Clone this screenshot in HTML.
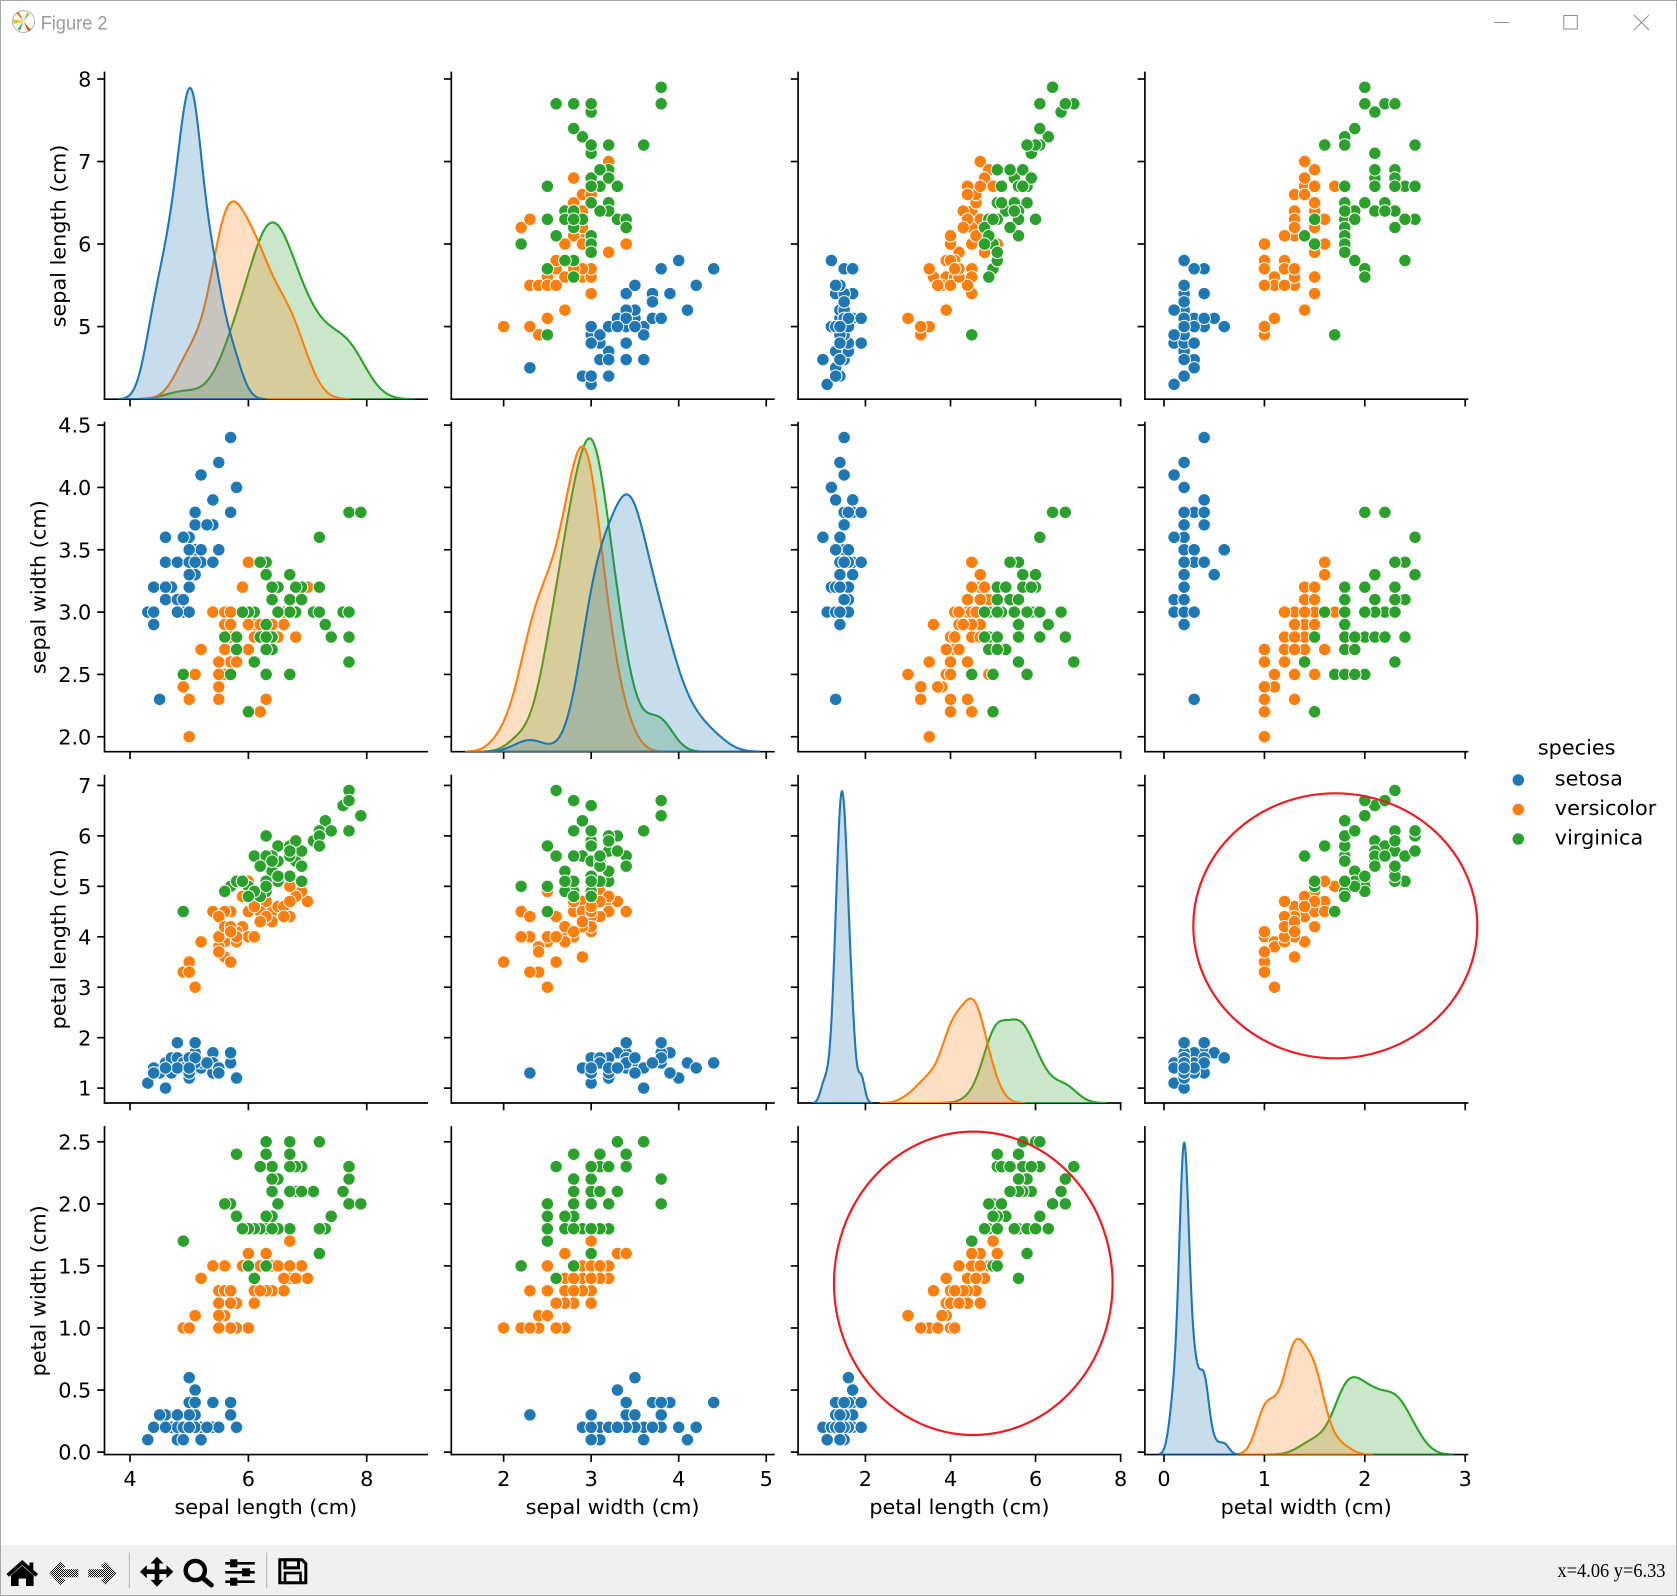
<!DOCTYPE html>
<html><head><meta charset="utf-8"><title>Figure 2</title>
<style>
html,body{margin:0;padding:0;background:#fff;width:1677px;height:1596px;overflow:hidden}
svg{display:block}
.t{font-family:"DejaVu Sans","Liberation Sans",sans-serif;font-size:20.8px;fill:#000}
</style></head><body>
<svg id="s" width="1677" height="1596" viewBox="0 0 1677 1596">
<defs>
<pattern id="dith" width="2" height="2" patternUnits="userSpaceOnUse"><rect width="2" height="2" fill="#f0f0f0"/><rect width="1" height="1" fill="#000"/><rect x="1" y="1" width="1" height="1" fill="#000"/></pattern>
</defs>
<rect width="1677" height="1596" fill="#fff"/>

<!-- title bar -->
<g>
<circle cx="23.5" cy="21.5" r="11" fill="#fff" stroke="#b0b0b0" stroke-width="1"/>
<path d="M23.5 21.5 L16 13 L19 12 Z" fill="#f07a1e"/>
<path d="M23.5 21.5 L31 30 L28 31 Z" fill="#e2441c"/>
<path d="M23.5 21.5 L13 19 L13.5 24 Z" fill="#f2c21a"/>
<path d="M23.5 21.5 L27 12.5 L29.5 14 Z" fill="#8bc34a"/>
<path d="M23.5 21.5 L20 30.5 L17.5 29 Z" fill="#4caf50"/>
<text x="40.6" y="29.3" font-family="Liberation Sans, sans-serif" font-size="19" fill="#9a9a9a" textLength="67" lengthAdjust="spacingAndGlyphs">Figure 2</text>
<line x1="1494.3" y1="22.5" x2="1509" y2="22.5" stroke="#8c8c8c" stroke-width="1"/>
<rect x="1563.8" y="15.5" width="13.5" height="13.5" fill="none" stroke="#8c8c8c" stroke-width="1"/>
<line x1="1634" y1="15" x2="1649" y2="30" stroke="#8c8c8c" stroke-width="1"/>
<line x1="1649" y1="15" x2="1634" y2="30" stroke="#8c8c8c" stroke-width="1"/>
</g>

<g id="plot"></g>

<!-- y tick labels -->
<g class="t" text-anchor="end">
<text x="91.3" y="86.6">8</text><text x="91.3" y="169.1">7</text><text x="91.3" y="251.6">6</text><text x="91.3" y="334.1">5</text>
<text x="91.3" y="432.7">4.5</text><text x="91.3" y="495.0">4.0</text><text x="91.3" y="557.4">3.5</text><text x="91.3" y="619.7">3.0</text><text x="91.3" y="682.0">2.5</text><text x="91.3" y="744.3">2.0</text>
<text x="91.3" y="793.0">7</text><text x="91.3" y="843.5">6</text><text x="91.3" y="893.9">5</text><text x="91.3" y="944.4">4</text><text x="91.3" y="994.8">3</text><text x="91.3" y="1045.3">2</text><text x="91.3" y="1095.7">1</text>
<text x="91.3" y="1149.4">2.5</text><text x="91.3" y="1211.5">2.0</text><text x="91.3" y="1273.5">1.5</text><text x="91.3" y="1335.6">1.0</text><text x="91.3" y="1397.7">0.5</text><text x="91.3" y="1459.7">0.0</text>
</g>
<!-- x tick labels -->
<g class="t" text-anchor="middle">
<text x="130.0" y="1486">4</text><text x="248.4" y="1486">6</text><text x="366.7" y="1486">8</text>
<text x="503.7" y="1486">2</text><text x="591.2" y="1486">3</text><text x="678.7" y="1486">4</text><text x="766.2" y="1486">5</text>
<text x="865.4" y="1486">2</text><text x="950.5" y="1486">4</text><text x="1035.6" y="1486">6</text><text x="1120.6" y="1486">8</text>
<text x="1164.0" y="1486">0</text><text x="1264.4" y="1486">1</text><text x="1364.8" y="1486">2</text><text x="1465.2" y="1486">3</text>
</g>
<!-- x axis labels -->
<g class="t" text-anchor="middle">
<text x="265.8" y="1513.8">sepal length (cm)</text>
<text x="612.6" y="1513.8">sepal width (cm)</text>
<text x="959.4" y="1513.8">petal length (cm)</text>
<text x="1306.2" y="1513.8">petal width (cm)</text>
</g>
<!-- y axis labels -->
<g class="t" text-anchor="middle">
<text transform="translate(65.6,236) rotate(-90)">sepal length (cm)</text>
<text transform="translate(45.6,587.2) rotate(-90)">sepal width (cm)</text>
<text transform="translate(65.6,939.3) rotate(-90)">petal length (cm)</text>
<text transform="translate(45.6,1290.8) rotate(-90)">petal width (cm)</text>
</g>

<!-- legend -->
<g>
<text class="t" x="1576.7" y="754.3" text-anchor="middle">species</text>
<circle cx="1518.3" cy="780" r="6.25" fill="#1f77b4" stroke="#fff" stroke-width="1"/>
<circle cx="1518.3" cy="809.5" r="6.25" fill="#ff7f0e" stroke="#fff" stroke-width="1"/>
<circle cx="1518.3" cy="839" r="6.25" fill="#2ca02c" stroke="#fff" stroke-width="1"/>
<text class="t" x="1554.8" y="785.3">setosa</text>
<text class="t" x="1554.8" y="815.0">versicolor</text>
<text class="t" x="1554.8" y="844.7">virginica</text>
</g>

<!-- annotation ellipses -->
<ellipse cx="1335.3" cy="925.8" rx="142" ry="132.5" fill="none" stroke="#ed1c24" stroke-width="2.2"/>
<ellipse cx="973.3" cy="1283.3" rx="139.3" ry="151.7" fill="none" stroke="#ed1c24" stroke-width="2.2"/>

<!-- toolbar -->
<rect x="0" y="1545" width="1677" height="51" fill="#f0f0f0"/>
<g fill="#000">
<path d="M22.3 1560 L6.5 1574 L9 1576.8 L22.3 1565 L35.6 1576.8 L38.1 1574 L33.3 1569.7 V1562.5 H29.5 V1566.3 Z"/>
<path d="M11 1575.5 L22.3 1565.8 L33.6 1575.5 V1586 H26 V1578.5 H18.6 V1586 H11 Z"/>
</g>
<path d="M49.3 1573.3 L60.5 1561.7 L65.5 1566.5 L60.5 1569.3 H78.3 V1577.3 H60.5 L65.5 1580.2 L60.5 1585 Z" fill="url(#dith)"/>
<path d="M116.7 1573.3 L105.5 1561.7 L100.5 1566.5 L105.5 1569.3 H88.3 V1577.3 H105.5 L100.5 1580.2 L105.5 1585 Z" fill="url(#dith)"/>
<line x1="129.3" y1="1552.7" x2="129.3" y2="1588.3" stroke="#b4b4b4" stroke-width="1"/>
<g fill="#000">
<rect x="154.7" y="1561" width="4.6" height="22"/>
<rect x="145" y="1569.4" width="24" height="4.6"/>
<path d="M157 1556.7 L150.5 1563.5 H163.5 Z M157 1586.7 L150.5 1579.9 H163.5 Z M140 1571.7 L146.8 1565.2 V1578.2 Z M173.3 1571.7 L166.5 1565.2 V1578.2 Z"/>
</g>
<circle cx="195.3" cy="1570.5" r="9.6" fill="none" stroke="#000" stroke-width="4.4"/>
<line x1="202.5" y1="1577.7" x2="211.3" y2="1585" stroke="#000" stroke-width="5" stroke-linecap="round"/>
<g stroke="#000" stroke-width="2.6">
<line x1="225.3" y1="1563.3" x2="254.7" y2="1563.3"/>
<line x1="225.3" y1="1572.3" x2="254.7" y2="1572.3"/>
<line x1="225.3" y1="1581.7" x2="254.7" y2="1581.7"/>
</g>
<g fill="#000">
<rect x="230" y="1559.3" width="7.3" height="8"/>
<rect x="242" y="1568.3" width="8" height="8"/>
<rect x="230" y="1577.7" width="7.3" height="8"/>
</g>
<line x1="266.7" y1="1552.7" x2="266.7" y2="1588.3" stroke="#b4b4b4" stroke-width="1"/>
<g fill="none" stroke="#000" stroke-width="3">
<path d="M279.8 1559.8 H302 L305.8 1563.6 V1582.8 H279.8 Z"/>
<rect x="285" y="1559.8" width="13.5" height="8"/>
<rect x="285" y="1573" width="15.5" height="9.8" stroke-width="2.6"/>
</g>
<text x="1665.5" y="1577" text-anchor="end" font-family="Liberation Serif, serif" font-size="20" fill="#000" textLength="108" lengthAdjust="spacingAndGlyphs">x=4.06 y=6.33</text>

<!-- window border -->
<rect x="0.5" y="0.5" width="1676" height="1595" fill="none" stroke="#a8a8a8" stroke-width="1"/>
</svg>
<script>
(function(){
var S="5.1,3.5,1.4,.2 4.9,3,1.4,.2 4.7,3.2,1.3,.2 4.6,3.1,1.5,.2 5,3.6,1.4,.2 5.4,3.9,1.7,.4 4.6,3.4,1.4,.3 5,3.4,1.5,.2 4.4,2.9,1.4,.2 4.9,3.1,1.5,.1 5.4,3.7,1.5,.2 4.8,3.4,1.6,.2 4.8,3,1.4,.1 4.3,3,1.1,.1 5.8,4,1.2,.2 5.7,4.4,1.5,.4 5.4,3.9,1.3,.4 5.1,3.5,1.4,.3 5.7,3.8,1.7,.3 5.1,3.8,1.5,.3 5.4,3.4,1.7,.2 5.1,3.7,1.5,.4 4.6,3.6,1,.2 5.1,3.3,1.7,.5 4.8,3.4,1.9,.2 5,3,1.6,.2 5,3.4,1.6,.4 5.2,3.5,1.5,.2 5.2,3.4,1.4,.2 4.7,3.2,1.6,.2 4.8,3.1,1.6,.2 5.4,3.4,1.5,.4 5.2,4.1,1.5,.1 5.5,4.2,1.4,.2 4.9,3.1,1.5,.2 5,3.2,1.2,.2 5.5,3.5,1.3,.2 4.9,3.6,1.4,.1 4.4,3,1.3,.2 5.1,3.4,1.5,.2 5,3.5,1.3,.3 4.5,2.3,1.3,.3 4.4,3.2,1.3,.2 5,3.5,1.6,.6 5.1,3.8,1.9,.4 4.8,3,1.4,.3 5.1,3.8,1.6,.2 4.6,3.2,1.4,.2 5.3,3.7,1.5,.2 5,3.3,1.4,.2 "+
"7,3.2,4.7,1.4 6.4,3.2,4.5,1.5 6.9,3.1,4.9,1.5 5.5,2.3,4,1.3 6.5,2.8,4.6,1.5 5.7,2.8,4.5,1.3 6.3,3.3,4.7,1.6 4.9,2.4,3.3,1 6.6,2.9,4.6,1.3 5.2,2.7,3.9,1.4 5,2,3.5,1 5.9,3,4.2,1.5 6,2.2,4,1 6.1,2.9,4.7,1.4 5.6,2.9,3.6,1.3 6.7,3.1,4.4,1.4 5.6,3,4.5,1.5 5.8,2.7,4.1,1 6.2,2.2,4.5,1.5 5.6,2.5,3.9,1.1 5.9,3.2,4.8,1.8 6.1,2.8,4,1.3 6.3,2.5,4.9,1.5 6.1,2.8,4.7,1.2 6.4,2.9,4.3,1.3 6.6,3,4.4,1.4 6.8,2.8,4.8,1.4 6.7,3,5,1.7 6,2.9,4.5,1.5 5.7,2.6,3.5,1 5.5,2.4,3.8,1.1 5.5,2.4,3.7,1 5.8,2.7,3.9,1.2 6,2.7,5.1,1.6 5.4,3,4.5,1.5 6,3.4,4.5,1.6 6.7,3.1,4.7,1.5 6.3,2.3,4.4,1.3 5.6,3,4.1,1.3 5.5,2.5,4,1.3 5.5,2.6,4.4,1.2 6.1,3,4.6,1.4 5.8,2.6,4,1.2 5,2.3,3.3,1 5.6,2.7,4.2,1.3 5.7,3,4.2,1.2 5.7,2.9,4.2,1.3 6.2,2.9,4.3,1.3 5.1,2.5,3,1.1 5.7,2.8,4.1,1.3 "+
"6.3,3.3,6,2.5 5.8,2.7,5.1,1.9 7.1,3,5.9,2.1 6.3,2.9,5.6,1.8 6.5,3,5.8,2.2 7.6,3,6.6,2.1 4.9,2.5,4.5,1.7 7.3,2.9,6.3,1.8 6.7,2.5,5.8,1.8 7.2,3.6,6.1,2.5 6.5,3.2,5.1,2 6.4,2.7,5.3,1.9 6.8,3,5.5,2.1 5.7,2.5,5,2 5.8,2.8,5.1,2.4 6.4,3.2,5.3,2.3 6.5,3,5.5,1.8 7.7,3.8,6.7,2.2 7.7,2.6,6.9,2.3 6,2.2,5,1.5 6.9,3.2,5.7,2.3 5.6,2.8,4.9,2 7.7,2.8,6.7,2 6.3,2.7,4.9,1.8 6.7,3.3,5.7,2.1 7.2,3.2,6,1.8 6.2,2.8,4.8,1.8 6.1,3,4.9,1.8 6.4,2.8,5.6,2.1 7.2,3,5.8,1.6 7.4,2.8,6.1,1.9 7.9,3.8,6.4,2 6.4,2.8,5.6,2.2 6.3,2.8,5.1,1.5 6.1,2.6,5.6,1.4 7.7,3,6.1,2.3 6.3,3.4,5.6,2.4 6.4,3.1,5.5,1.8 6,3,4.8,1.8 6.9,3.1,5.4,2.1 6.7,3.1,5.6,2.4 6.9,3.1,5.1,2.3 5.8,2.7,5.1,1.9 6.8,3.2,5.9,2.3 6.7,3.3,5.7,2.5 6.7,3,5.2,2.3 6.3,2.5,5,1.9 6.5,3,5.2,2 6.2,3.4,5.4,2.3 5.9,3,5.1,1.8";
var d=S.split(' ').map(function(r){return r.split(',').map(Number);});
var C=['#1f77b4','#ff7f0e','#2ca02c'];
var FC=['rgba(31,119,180,0.25)','rgba(255,127,14,0.25)','rgba(44,160,44,0.25)'];
var cols=[[104.5,3.5686,9.0202],[451.3,1.40197,5.08763],[798.1,0.41692,8.00198],[1144.9,-0.19067,3.02293]];
var W=322.6;
var rows=[[72.4,326.8,4.12,8.08],[422.6,329.1,1.88,4.52],[775.6,327.4,0.705,7.195],[1126.9,327.7,-0.02,2.62]];
var xt=[[4,6,8],[2,3,4,5],[2,4,6,8],[0,1,2,3]];
var yt=[[5,6,7,8],[2,2.5,3,3.5,4,4.5],[1,2,3,4,5,6,7],[0,0.5,1,1.5,2,2.5]];
function X(j,v){var c=cols[j];return c[0]+(v-c[1])/(c[2]-c[1])*W;}
function Y(i,v){var r=rows[i];return r[0]+(r[3]-v)/(r[3]-r[2])*r[1];}
function f(v){return v.toFixed(2);}
function ln(a,b,c,e){return '<line x1="'+f(a)+'" y1="'+f(b)+'" x2="'+f(c)+'" y2="'+f(e)+'"/>';}
var out=[];
var fac=Math.pow(50,-0.2);
for(var i=0;i<4;i++){for(var j=0;j<4;j++){
  var L=cols[j][0],T=rows[i][0],H=rows[i][1],B=T+H;
  var axes='<g stroke="#000" stroke-width="1.67" stroke-linecap="square">'+ln(L,T,L,B)+ln(L,B,L+W,B)+'</g><g stroke="#000" stroke-width="1.67">';
  yt[i].forEach(function(v){var y=Y(i,v);axes+=ln(L-7.3,y,L,y);});
  xt[j].forEach(function(v){var x=X(j,v);axes+=ln(x,B,x,B+7.3);});
  axes+='</g>';
  if(i!==j){
    var p='<g stroke="#fff" stroke-width="1">';
    for(var k=0;k<150;k++){
      p+='<circle cx="'+f(X(j,d[k][j]))+'" cy="'+f(Y(i,d[k][i]))+'" r="6.25" fill="'+C[(k/50)|0]+'"/>';
    }
    p+='</g>';
    out.push(p);out.push(axes);
  }else{
    out.push(axes);
    var curves=[],mx=0;
    for(var s=0;s<3;s++){
      var v=[];for(var k2=s*50;k2<s*50+50;k2++)v.push(d[k2][j]);
      var m=0;v.forEach(function(a){m+=a;});m/=50;
      var ss=0;v.forEach(function(a){ss+=(a-m)*(a-m);});
      var bw=fac*Math.sqrt(ss/49);
      var lo=Math.min.apply(null,v)-3*bw,hi=Math.max.apply(null,v)+3*bw;
      var pts=[];
      for(var g=0;g<200;g++){
        var x=lo+(hi-lo)*g/199,y=0;
        for(var q=0;q<50;q++){var z=(x-v[q])/bw;y+=Math.exp(-0.5*z*z);}
        y=y/(50*bw*Math.sqrt(2*Math.PI))/3;
        pts.push([x,y]);if(y>mx)mx=y;
      }
      curves.push(pts);
    }
    var ymax=mx*1.05;
    var g2='<clipPath id="cp'+j+'"><rect x="'+L+'" y="'+T+'" width="'+W+'" height="'+H+'"/></clipPath><g clip-path="url(#cp'+j+')" stroke-width="2.1" stroke-linejoin="round">';
    for(var s2=2;s2>=0;s2--){
      var pts2=curves[s2];
      var dd='M'+f(X(j,pts2[0][0]))+' '+f(B);
      for(var g3=0;g3<pts2.length;g3++){dd+=' L'+f(X(j,pts2[g3][0]))+' '+f(B-pts2[g3][1]/ymax*H);}
      dd+=' L'+f(X(j,pts2[pts2.length-1][0]))+' '+f(B)+' Z';
      g2+='<path d="'+dd+'" fill="'+FC[s2]+'" stroke="'+C[s2]+'"/>';
    }
    g2+='</g>';
    out.push(g2);
  }
}}
document.getElementById('plot').innerHTML=out.join('');
})();
</script>
</body></html>
